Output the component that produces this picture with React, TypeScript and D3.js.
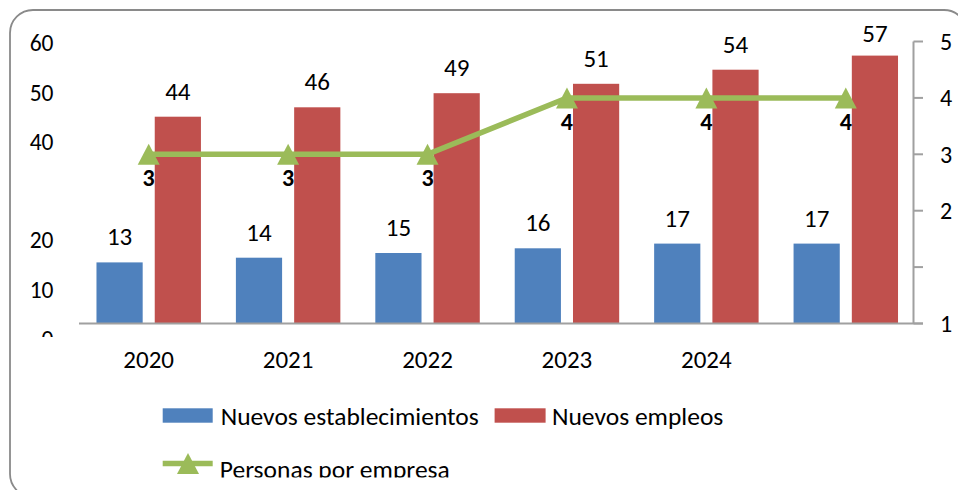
import React from "react";
import * as d3 from "d3";

const categories = ["2020", "2021", "2022", "2023", "2024", "2025"];
const xTickLabels = ["2020", "2021", "2022", "2023", "2024"];
const nuevosEstablecimientos = [13, 14, 15, 16, 17, 17];
const nuevosEmpleos = [44, 46, 49, 51, 54, 57];
const personasPorEmpresa = [3, 3, 3, 4, 4, 4];
const leftTickValues = [60, 50, 40, 20, 10, 0];
const rightTickValues = [0, 1, 2, 3, 4, 5];
const rightTickLabels = ["1", "", "2", "3", "4", "5"];
const seriesNames = ["Nuevos establecimientos", "Nuevos empleos", "Personas por empresa"];

const W = 958;
const H = 490;
const FONT = "Calibri, Carlito, Lato, 'Noto Sans', sans-serif";
const BLUE = "#4F81BD";
const RED = "#C0504D";
const GREEN = "#9BBB59";
const AXIS = "#A0A0A0";

export default function App() {
  const plotLeft = 79, plotRight = 915.5, plotTop = 41.5, plotBottom = 323.5;
  const x0 = d3.scaleBand<string>().domain(categories).range([plotLeft, plotRight]);
  const x1 = d3
    .scaleBand<string>()
    .domain(["est", "emp"])
    .range([0, x0.bandwidth()])
    .paddingInner(0.207)
    .paddingOuter(0.3);
  const yBar = d3.scaleLinear().domain([0, 60]).range([plotBottom, plotTop]);
  const yRight = d3.scaleLinear().domain([0, 5]).range([plotBottom, plotTop]);
  const yLeftLabel = d3.scaleLinear().domain([0, 60]).range([339, 43.3]);
  const cx = (i: number) => (x0(categories[i]) as number) + x0.bandwidth() / 2;

  const line = d3
    .line<number>()
    .x((_, i) => cx(i))
    .y((d) => yRight(d));

  const tri = "M0,-10.5L11,10.5L-11,10.5Z";

  return (
    <svg
      width={W}
      height={H}
      style={{ position: "absolute", left: 0, top: 0, background: "#fff" }}
      fontFamily={FONT}
    >
      <defs>
        <clipPath id="leftClip">
          <rect x={0} y={0} width={W} height={337} />
        </clipPath>
        <clipPath id="legClip">
          <rect x={0} y={0} width={W} height={477.5} />
        </clipPath>
      </defs>
      <rect x={0} y={0} width={W} height={H} fill="#fff" />
      <rect x={10} y={10} width={957} height={487} rx={23} ry={23} fill="none" stroke="#8A8A8A" strokeWidth={1.8} />

      {/* left axis labels */}
      <g clipPath="url(#leftClip)">
        {leftTickValues.map((t) => (
          <text key={t} x={53.5} y={yLeftLabel(t) + 8} textAnchor="end" fontSize={23.5} fill="#000">
            {t}
          </text>
        ))}
      </g>

      {/* bars */}
      {categories.map((c, i) => {
        const bx = x0(c) as number;
        return (
          <g key={c}>
            <rect
              x={bx + (x1("est") as number)}
              y={yBar(nuevosEstablecimientos[i])}
              width={x1.bandwidth()}
              height={plotBottom - yBar(nuevosEstablecimientos[i])}
              fill={BLUE}
            />
            <rect
              x={bx + (x1("emp") as number)}
              y={yBar(nuevosEmpleos[i])}
              width={x1.bandwidth()}
              height={plotBottom - yBar(nuevosEmpleos[i])}
              fill={RED}
            />
          </g>
        );
      })}

      {/* baseline and right axis */}
      <line x1={plotLeft} x2={923} y1={plotBottom} y2={plotBottom} stroke={AXIS} strokeWidth={2} />
      <line x1={913.5} x2={913.5} y1={plotTop} y2={plotBottom} stroke={AXIS} strokeWidth={2} />
      {rightTickValues.map((t, i) => (
        <g key={t}>
          <line x1={913.5} x2={923} y1={yRight(t)} y2={yRight(t)} stroke={AXIS} strokeWidth={2} />
          <text x={940} y={yRight(t) + 8.5} fontSize={24} fill="#000">
            {rightTickLabels[i]}
          </text>
        </g>
      ))}

      {/* bar labels */}
      {categories.map((c, i) => {
        const bx = x0(c) as number;
        return (
          <g key={"l" + c}>
            <text
              x={bx + (x1("est") as number) + x1.bandwidth() / 2}
              y={Math.max(yBar(nuevosEstablecimientos[i]) - 17, 42)}
              textAnchor="middle"
              fontSize={25}
              fill="#000"
            >
              {nuevosEstablecimientos[i]}
            </text>
            <text
              x={bx + (x1("emp") as number) + x1.bandwidth() / 2}
              y={Math.max(yBar(nuevosEmpleos[i]) - 17, 42)}
              textAnchor="middle"
              fontSize={25}
              fill="#000"
            >
              {nuevosEmpleos[i]}
            </text>
          </g>
        );
      })}

      {/* line series */}
      <path d={line(personasPorEmpresa) || ""} fill="none" stroke={GREEN} strokeWidth={5.5} />
      {personasPorEmpresa.map((v, i) => (
        <g key={"p" + i}>
          <path d={tri} transform={`translate(${cx(i)},${yRight(v)})`} fill={GREEN} />
          <text x={cx(i)} y={yRight(v) + 32} textAnchor="middle" fontSize={24} fontWeight="bold" fill="#000">
            {v}
          </text>
        </g>
      ))}

      {/* x labels */}
      {xTickLabels.map((t, i) => (
        <text key={t} x={cx(i)} y={368.3} textAnchor="middle" fontSize={25} fill="#000">
          {t}
        </text>
      ))}

      {/* legend */}
      <rect x={162.7} y={408.3} width={50} height={14.4} fill={BLUE} />
      <text x={220.7} y={425} fontSize={25.5} fill="#000">
        {seriesNames[0]}
      </text>
      <rect x={494.6} y={408.3} width={51} height={14.4} fill={RED} />
      <text x={552} y={425} fontSize={25.5} fill="#000">
        {seriesNames[1]}
      </text>
      <g clipPath="url(#legClip)">
        <line x1={162.7} x2={212.7} y1={463.4} y2={463.4} stroke={GREEN} strokeWidth={5.5} />
        <path d={tri} transform={`translate(188,463.4)`} fill={GREEN} />
        <text x={219.8} y={478} fontSize={25.5} fill="#000">
          {seriesNames[2]}
        </text>
      </g>
    </svg>
  );
}
